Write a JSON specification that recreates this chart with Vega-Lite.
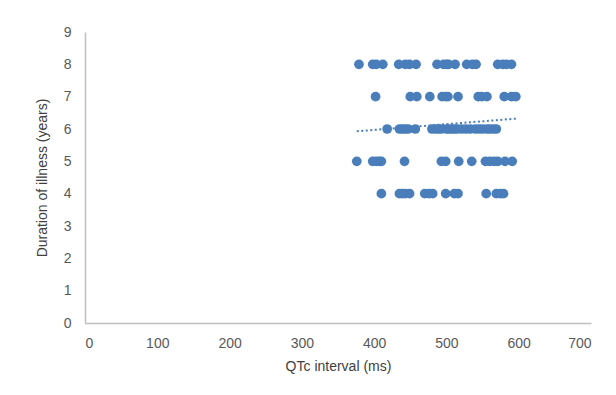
{
  "$schema": "https://vega.github.io/schema/vega-lite/v6.json",
  "width": 506,
  "height": 291,
  "autosize": "none",
  "padding": {"left": 85, "top": 32, "right": 25, "bottom": 72},
  "background": "white",
  "config": {
    "view": {"stroke": null},
    "font": "Liberation Sans",
    "axis": {
      "grid": false,
      "ticks": false,
      "labelOverlap": false,
      "domainColor": "#bfbfbf",
      "domainWidth": 1.5,
      "labelColor": "#595959",
      "labelFontSize": 14,
      "labelFont": "Liberation Sans",
      "titleColor": "#404040",
      "titleFontSize": 14,
      "titleFontWeight": "normal",
      "titleFont": "Liberation Sans"
    }
  },
  "datasets": {
    "points": [
      {"qtc": 379, "duration": 8}, {"qtc": 398, "duration": 8}, {"qtc": 403, "duration": 8}, {"qtc": 412, "duration": 8},
      {"qtc": 434, "duration": 8}, {"qtc": 443, "duration": 8}, {"qtc": 449, "duration": 8}, {"qtc": 458, "duration": 8},
      {"qtc": 487, "duration": 8}, {"qtc": 496, "duration": 8}, {"qtc": 500, "duration": 8}, {"qtc": 503, "duration": 8},
      {"qtc": 512, "duration": 8}, {"qtc": 528, "duration": 8}, {"qtc": 536, "duration": 8}, {"qtc": 541, "duration": 8},
      {"qtc": 571, "duration": 8}, {"qtc": 578, "duration": 8}, {"qtc": 583, "duration": 8}, {"qtc": 590, "duration": 8},
      {"qtc": 402, "duration": 7}, {"qtc": 450, "duration": 7}, {"qtc": 459, "duration": 7}, {"qtc": 477, "duration": 7},
      {"qtc": 494, "duration": 7}, {"qtc": 499, "duration": 7}, {"qtc": 502, "duration": 7}, {"qtc": 516, "duration": 7},
      {"qtc": 544, "duration": 7}, {"qtc": 549, "duration": 7}, {"qtc": 556, "duration": 7}, {"qtc": 580, "duration": 7},
      {"qtc": 590, "duration": 7}, {"qtc": 596, "duration": 7},
      {"qtc": 418, "duration": 6}, {"qtc": 435, "duration": 6}, {"qtc": 439, "duration": 6}, {"qtc": 443, "duration": 6},
      {"qtc": 447, "duration": 6}, {"qtc": 457, "duration": 6}, {"qtc": 480, "duration": 6}, {"qtc": 485, "duration": 6},
      {"qtc": 489, "duration": 6}, {"qtc": 493, "duration": 6}, {"qtc": 500, "duration": 6}, {"qtc": 503, "duration": 6},
      {"qtc": 507, "duration": 6}, {"qtc": 511, "duration": 6}, {"qtc": 515, "duration": 6}, {"qtc": 521, "duration": 6},
      {"qtc": 527, "duration": 6}, {"qtc": 533, "duration": 6}, {"qtc": 540, "duration": 6}, {"qtc": 545, "duration": 6},
      {"qtc": 550, "duration": 6}, {"qtc": 556, "duration": 6}, {"qtc": 560, "duration": 6}, {"qtc": 565, "duration": 6},
      {"qtc": 569, "duration": 6},
      {"qtc": 376, "duration": 5}, {"qtc": 398, "duration": 5}, {"qtc": 403, "duration": 5}, {"qtc": 407, "duration": 5},
      {"qtc": 410, "duration": 5}, {"qtc": 442, "duration": 5}, {"qtc": 493, "duration": 5}, {"qtc": 499, "duration": 5},
      {"qtc": 517, "duration": 5}, {"qtc": 535, "duration": 5}, {"qtc": 554, "duration": 5}, {"qtc": 560, "duration": 5},
      {"qtc": 566, "duration": 5}, {"qtc": 571, "duration": 5}, {"qtc": 581, "duration": 5}, {"qtc": 591, "duration": 5},
      {"qtc": 410, "duration": 4}, {"qtc": 435, "duration": 4}, {"qtc": 439, "duration": 4}, {"qtc": 443, "duration": 4},
      {"qtc": 449, "duration": 4}, {"qtc": 470, "duration": 4}, {"qtc": 476, "duration": 4}, {"qtc": 481, "duration": 4},
      {"qtc": 499, "duration": 4}, {"qtc": 511, "duration": 4}, {"qtc": 516, "duration": 4}, {"qtc": 555, "duration": 4},
      {"qtc": 569, "duration": 4}, {"qtc": 575, "duration": 4}, {"qtc": 579, "duration": 4}
    ],
    "trend": [
      {"qtc": 376, "duration": 5.93},
      {"qtc": 596, "duration": 6.32}
    ]
  },
  "layer": [
    {
      "data": {"name": "points"},
      "mark": {"type": "circle", "size": 95, "opacity": 1, "color": "#4a7ebb"},
      "encoding": {
        "x": {"field": "qtc", "type": "quantitative", "scale": {"domain": [0, 700], "nice": false},
              "axis": {"values": [0, 100, 200, 300, 400, 500, 600, 700], "title": "QTc interval (ms)", "labelPadding": 13, "titlePadding": 9}},
        "y": {"field": "duration", "type": "quantitative", "scale": {"domain": [0, 9], "nice": false},
              "axis": {"values": [0, 1, 2, 3, 4, 5, 6, 7, 8, 9], "tickCount": 10, "labelOverlap": false, "labelBound": false, "title": "Duration of illness (years)", "labelPadding": 14, "titlePadding": 14}}
      }
    },
    {
      "data": {"name": "trend"},
      "mark": {"type": "line", "color": "#4a7ebb", "strokeDash": [2, 2.5], "strokeWidth": 2},
      "encoding": {
        "x": {"field": "qtc", "type": "quantitative"},
        "y": {"field": "duration", "type": "quantitative"}
      }
    }
  ]
}
